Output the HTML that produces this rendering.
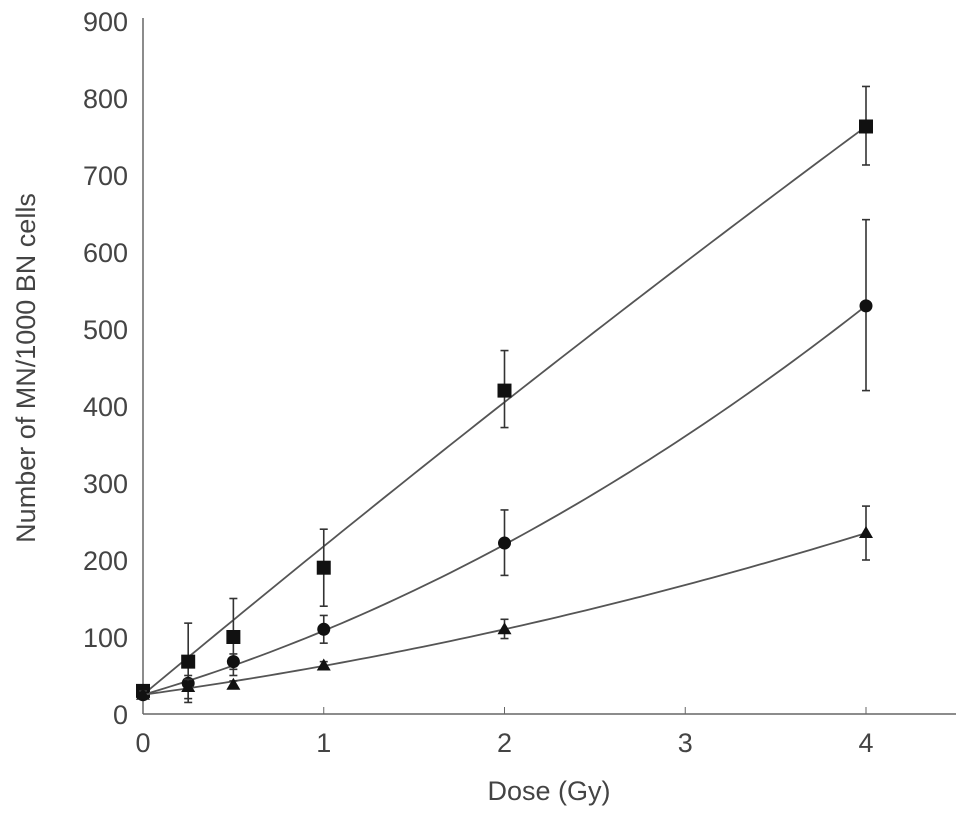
<!DOCTYPE html>
<html><head><meta charset="utf-8"><style>
body{margin:0;background:#fff}
svg text{font-family:"Liberation Sans",sans-serif;fill:#444}
</style></head><body>
<svg id="chart" width="969" height="818">
<g id="axes"></g><g id="marks"></g>
<text x="549" y="800" font-size="27" text-anchor="middle">Dose (Gy)</text>
<text transform="translate(35,368) rotate(-90)" font-size="27" text-anchor="middle">Number of MN/1000 BN cells</text>
</svg>
<script>
var doses=[0,0.25,0.5,1,2,4];
var sqVals=[30,68,100,190,420,763];
var sqLo=[25,20,50,140,372,713];
var sqHi=[35,118,150,240,472,815];
var ciVals=[25,40,68,110,222,530];
var ciLo=[20,30,58,92,180,420];
var ciHi=[30,50,78,128,265,642];
var trVals=[25,35,38,63,110,235];
var trLo=[20,15,33,58,98,200];
var trHi=[30,45,43,68,123,270];
var sqFit=[25,195.5,-2.75];
var ciFit=[25,68.7,14.4];
var trFit=[25,32.5,5];
var xTicks=[0,1,2,3,4];
var yTicks=[0,100,200,300,400,500,600,700,800,900];
var SVGNS='http://www.w3.org/2000/svg';
function scaleX(v){return 143+v*180.75;}
function scaleY(v){return 714-v*0.77;}
var axG=document.getElementById('axes'), mkG=document.getElementById('marks');
function mkEl(t,a,p){var e=document.createElementNS(SVGNS,t);for(var k in a){e.setAttribute(k,String(a[k]));}p.appendChild(e);return e;}
var ln=mkEl('line',{x1:143,y1:18,x2:143,y2:714,stroke:'#666','stroke-width':1.5},axG);


ln=mkEl('line',{x1:143,y1:714,x2:956,y2:714,stroke:'#666','stroke-width':1.5},axG);


for(var i=0;i<xTicks.length;i++){
 var t=xTicks[i];
 mkEl('line',{x1:scaleX(t),y1:714,x2:scaleX(t),y2:707,stroke:'#666'},axG);
 var tx=mkEl('text',{x:scaleX(t),y:752,'font-size':27,'text-anchor':'middle'},axG);
 tx.textContent=String(t);
 
 
}
for(var j=0;j<yTicks.length;j++){
 var u=yTicks[j];
 var ty=mkEl('text',{x:128,y:scaleY(u)+10,'font-size':27,'text-anchor':'end'},axG);
 ty.textContent=String(u);
 
 
}
function series(name,vals,lo,hi,fit,shape){
 var g=mkEl('g',{},mkG);
 
 
 var d='';
 for(var s=0;s<=80;s++){var xv=4*s/80;var yv=fit[0]+fit[1]*xv+fit[2]*xv*xv;d+=(s?'L':'M')+scaleX(xv)+' '+scaleY(yv);}
 mkEl('path',{d:d,fill:'none',stroke:'#555','stroke-width':1.8},g);
 for(var k=0;k<doses.length;k++){
  var cx=scaleX(doses[k]);
  mkEl('line',{x1:cx,y1:scaleY(lo[k]),x2:cx,y2:scaleY(hi[k]),stroke:'#333','stroke-width':1.6},g);
  mkEl('line',{x1:cx-4,y1:scaleY(lo[k]),x2:cx+4,y2:scaleY(lo[k]),stroke:'#333','stroke-width':1.6},g);
  mkEl('line',{x1:cx-4,y1:scaleY(hi[k]),x2:cx+4,y2:scaleY(hi[k]),stroke:'#333','stroke-width':1.6},g);
  var cy=scaleY(vals[k]);var m;
  if(shape==='sq'){m=mkEl('rect',{x:cx-7,y:cy-7,width:14,height:14,fill:'#111'},g);}
  else if(shape==='ci'){m=mkEl('circle',{cx:cx,cy:cy,r:6.5,fill:'#111'},g);}
  else{m=mkEl('polygon',{points:cx+','+(cy-7)+' '+(cx+7)+','+(cy+5)+' '+(cx-7)+','+(cy+5),fill:'#111'},g);}
  
  
 }
}
series('square',sqVals,sqLo,sqHi,sqFit,'sq');
series('circle',ciVals,ciLo,ciHi,ciFit,'ci');
series('triangle',trVals,trLo,trHi,trFit,'tr');
</script>
</body></html>
